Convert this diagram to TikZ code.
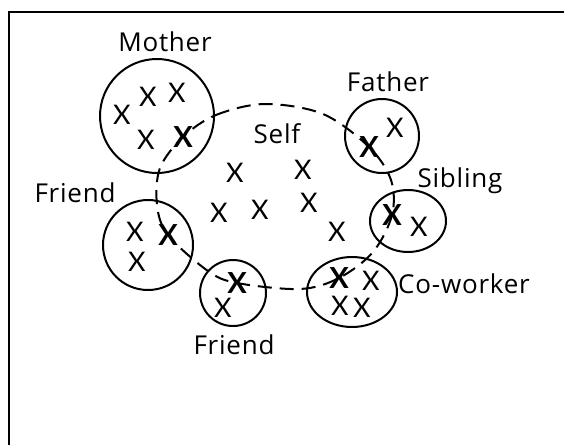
\documentclass[tikz,border=0pt]{standalone}
\usepackage{fontspec}
\setmainfont{Lato}
\newfontfamily\lblfont[LetterSpace=3]{Open Sans}
\usetikzlibrary{shapes.geometric}
\begin{document}
\begin{tikzpicture}[x=1pt,y=-1pt,
  grp/.style={draw, line width=2pt, inner sep=0pt},
  ring/.style={grp, circle, minimum size=#1},
  oval/.style={grp, ellipse},
  lbl/.style={inner sep=0pt, font=\lblfont\fontsize{26}{29}\selectfont},
  cross/.style={inner sep=0pt, font=\fontsize{27}{30}\selectfont},
  bcross/.style={inner sep=0pt, font=\fontsize{29}{32}\selectfont\bfseries},
  link/.style={line width=2pt, dash pattern=on 14pt off 8pt}]
\useasboundingbox (0,0) rectangle (564,445);
\draw[line width=1.4pt] (9,445) -- (9,12) -- (564,12);

% groups
\node[ring=114] (mother) at (157,116) {};
\node[ring=90] (friendL) at (148,245) {};
\node[ring=66] (friendB) at (233,293) {};
\node[ring=74] (father) at (382,136) {};
\node[oval, minimum width=76, minimum height=62] (sibling) at (408,221) {};
\node[oval, minimum width=90, minimum height=70] (cowork) at (352,292) {};

% labels
\node[lbl] (lmother) at (165,42) {Mother};
\node[lbl] (lfriendL) at (75,193) {Friend};
\node[lbl] (lfriendB) at (234,345) {Friend};
\node[lbl] (lfather) at (388,82) {Father};
\node[lbl] (lsibling) at (460,181) {Sibling};
\node[lbl] (lcowork) at (464,284) {Co-worker};
\node[lbl] (lself) at (277,134) {Self};

% key persons
\node[bcross] (mx) at (183,137) {X};
\node[bcross] (flx) at (168,235) {X};
\node[bcross] (fbx) at (237,283) {X};
\node[bcross] (cox) at (339,278) {X};
\node[bcross] (six) at (392,215) {X};
\node[bcross] (fax) at (369,147) {X};

% other members
\node[cross] (m1) at (122,115) {X};
\node[cross] (m2) at (148,97) {X};
\node[cross] (m3) at (177,93) {X};
\node[cross] (m4) at (146,140) {X};
\node[cross] (fl1) at (135,232) {X};
\node[cross] (fl2) at (137,262) {X};
\node[cross] (fb1) at (223,308) {X};
\node[cross] (fa1) at (395,128) {X};
\node[cross] (si1) at (419,227) {X};
\node[cross] (co1) at (371,281) {X};
\node[cross] (co2) at (340,306) {X};
\node[cross] (co3) at (362,308) {X};
\node[cross] (s1) at (235,173) {X};
\node[cross] (s2) at (303,170) {X};
\node[cross] (s3) at (219,213) {X};
\node[cross] (s4) at (260,210) {X};
\node[cross] (s5) at (309,203) {X};
\node[cross] (s6) at (337,232) {X};

% waypoints of the self boundary
\coordinate (a1) at (216,115);
\coordinate (a2) at (265,104);
\coordinate (a3) at (323,114);
\coordinate (a4) at (391,180);
\coordinate (a5) at (373,252);
\coordinate (a6) at (300,289);
\coordinate (a7) at (208,271);
\coordinate (a8) at (157,205);
\coordinate (a9) at (160,168);

\draw[link] plot[smooth cycle, tension=0.55] coordinates
  {(mx) (a1) (a2) (a3) (fax) (a4) (six) (a5) (cox) (a6) (fbx) (a7) (flx) (a8) (a9)};
\end{tikzpicture}
\end{document}
